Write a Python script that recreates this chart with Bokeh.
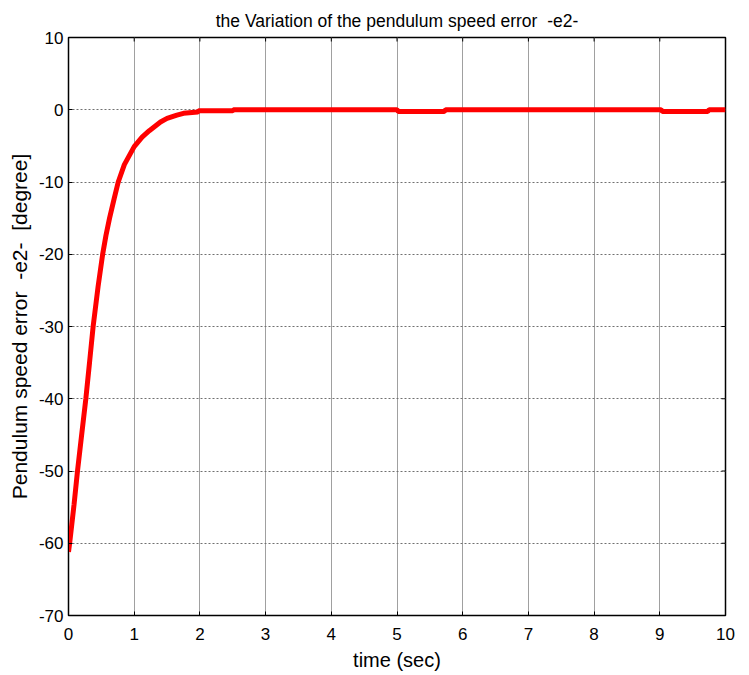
import math
from bokeh.plotting import figure
from bokeh.models import Range1d, FixedTicker, PrintfTickFormatter
from bokeh.embed import file_html
from bokeh.resources import INLINE

# time (sec)
t = [0.0, 0.02, 0.085, 0.137, 0.2, 0.264, 0.32, 0.375, 0.45, 0.52, 0.57, 0.625, 0.695,
     0.757, 0.85, 1.0, 1.12, 1.23, 1.4, 1.5, 1.65, 1.75, 1.97, 1.98, 2.5, 2.51,
     5.0, 5.02, 5.72, 5.74, 9.02, 9.04, 9.73, 9.75, 10.0]
# pendulum speed error e2 (degree)
e2 = [-61.2, -59.8, -54.6, -50.0, -45.0, -40.0, -35.0, -30.0, -24.5, -20.0, -17.4, -15.0, -12.3,
      -10.0, -7.6, -5.1, -3.8, -2.9, -1.7, -1.2, -0.75, -0.5, -0.3, -0.15, -0.15, 0.0,
      0.0, -0.23, -0.23, 0.0, 0.0, -0.23, -0.23, 0.0, 0.0]

x_ticks = [0, 1, 2, 3, 4, 5, 6, 7, 8, 9, 10]
y_ticks = [10, 0, -10, -20, -30, -40, -50, -60, -70]
x_lo, x_hi = 0, 10
y_lo, y_hi = -70, 10

FONT = "Liberation Sans"

p = figure(width=749, height=675, output_backend="svg", toolbar_location=None,
           x_range=Range1d(x_lo, x_hi), y_range=Range1d(y_lo, y_hi),
           title="the Variation of the pendulum speed error\u00a0\u00a0-e2-",
           min_border_left=68, min_border_right=24, min_border_top=37, min_border_bottom=60)

p.title.align = "center"
p.title.text_font = FONT
p.title.text_font_size = "17.5px"
p.title.text_font_style = "normal"
p.title.text_color = "black"
p.title.standoff = 13

p.outline_line_color = "black"
p.outline_line_width = 1.5

for ax in (p.xaxis[0], p.yaxis[0]):
    ax.major_label_text_font = FONT
    ax.major_label_text_font_size = "17px"
    ax.major_label_text_color = "black"
    ax.axis_label_text_font = FONT
    ax.axis_label_text_font_style = "normal"
    ax.axis_label_text_color = "black"
    ax.major_tick_in = 4
    ax.major_tick_out = 0
    ax.minor_tick_line_color = None
    ax.axis_line_color = "black"
    ax.major_tick_line_color = "black"
    ax.formatter = PrintfTickFormatter(format="%d")

p.xaxis[0].axis_label_text_font_size = "20px"
p.yaxis[0].axis_label_text_font_size = "21px"
p.xaxis[0].ticker = FixedTicker(ticks=x_ticks)
p.yaxis[0].ticker = FixedTicker(ticks=y_ticks)
p.xaxis[0].axis_label = "time (sec)"
p.yaxis[0].axis_label = "Pendulum speed error\u00a0\u00a0-e2-\u00a0\u00a0[degree]"
p.xaxis[0].major_label_standoff = 12
p.yaxis[0].major_label_standoff = 5
p.xaxis[0].axis_label_standoff = 6
p.yaxis[0].axis_label_standoff = 5

# inner tick marks on the top and right edges of the box
p.ray(x=x_ticks, y=[y_hi] * len(x_ticks), length=4, length_units="screen",
      angle=-math.pi / 2, line_color="black", line_width=1)
p.ray(x=[x_hi] * len(y_ticks), y=y_ticks, length=4, length_units="screen",
      angle=math.pi, line_color="black", line_width=1)

p.xgrid.ticker = FixedTicker(ticks=x_ticks)
p.ygrid.ticker = FixedTicker(ticks=y_ticks)
p.xgrid.grid_line_color = "#a0a0a0"
p.xgrid.grid_line_width = 1
p.ygrid.grid_line_color = "#707070"
p.ygrid.grid_line_dash = "2 2"
p.ygrid.grid_line_width = 1

p.line(t, e2, line_color="red", line_width=5)

open("out.html", "w").write(file_html(p, INLINE))
